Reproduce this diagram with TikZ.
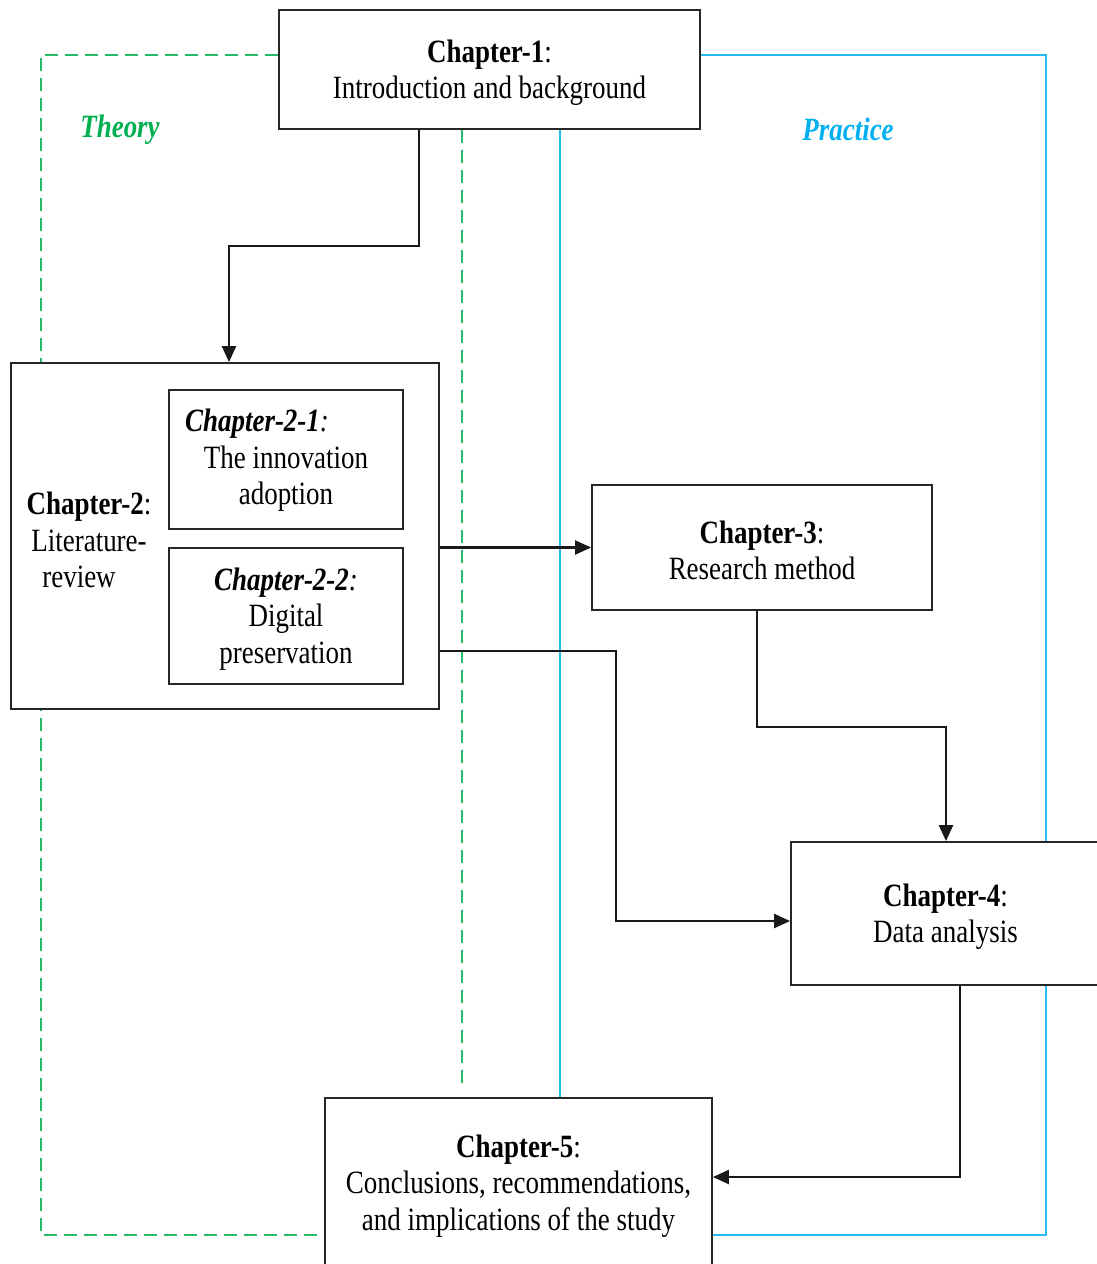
\documentclass[tikz,border=0pt]{standalone}
\usepackage{fontspec}
\setmainfont[FakeStretch=0.83]{Liberation Serif}
\usetikzlibrary{arrows.meta,calc,backgrounds}
\definecolor{thgreen}{HTML}{00B050}
\definecolor{prblue}{HTML}{00B0F0}
\begin{document}
\begin{tikzpicture}[x=1pt,y=-1pt,
  every node/.style={font=\fontsize{32.5}{36.5}\selectfont},
  box/.style={draw=black!85,line width=1.8pt,fill=white,rectangle,inner sep=0pt},
  txt/.style={align=center,inner sep=0pt},
  arr/.style={draw=black!90,line width=2.2pt,-{Triangle[length=16pt,width=14pt]}},
  theory/.style={draw=thgreen!85,line width=2pt,dash pattern=on 13pt off 7pt},
  practice/.style={draw=prblue!85,line width=1.6pt},
  lbl/.style={font=\fontsize{32.5}{36.5}\selectfont\bfseries\itshape}]
\useasboundingbox (0,0) rectangle (1096,1264);
\coordinate (gl) at (41,600);
\coordinate (br) at (1046,600);
% boxes
\node[box,minimum width=421pt,minimum height=119pt] (b1) at (489.5,69.5) {};
\node[box,minimum width=428pt,minimum height=346pt] (b2) at (225,536) {};
\node[box,minimum width=234pt,minimum height=139pt] (b21) at (286,459.5) {};
\node[box,minimum width=234pt,minimum height=136pt] (b22) at (286,616) {};
\node[box,minimum width=340pt,minimum height=125pt] (b3) at (762,547.5) {};
\node[box,minimum width=309pt,minimum height=143pt] (b4) at (945.5,913.5) {};
\node[box,minimum width=387pt,minimum height=170pt] (b5) at (518.5,1183) {};
% theory (green dashed) and practice (blue) lines, behind the boxes
\begin{scope}[on background layer]
\draw[theory] ($(b1.west)+(0,-14.5)$) -| (gl) |- ($(b5.west)+(0,52)$);
\draw[theory] ($(b1.south)+(-27.5,0)$) -- ($(b5.north)+(-56.5,-8)$);
\draw[practice] ($(b1.east)+(0,-14.5)$) -| (br) |- ($(b5.east)+(0,52)$);
\draw[practice] ($(b1.south)+(70.5,0)$) -- ($(b5.north)+(41.5,0)$);
\end{scope}
% texts
\node[txt] (t1) at ($(b1)+(0,3)$) {\textbf{Chapter-1}:\\Introduction and background};
\node[txt] (t21) at ($(b21)+(0,1)$) {\textbf{\textit{Chapter-2-1}}\textit{:}\hspace*{58pt}\\The innovation\\adoption};
\node[txt] (t22) at ($(b22)+(0,3)$) {\textbf{\textit{Chapter-2-2}}\textit{:}\\Digital\\preservation};
\node[txt] (t2) at (89,540) {\textbf{Chapter-2}:\\Literature-\\review\hspace*{20pt}};
\node[txt] (t3) at ($(b3)+(0,3)$) {\textbf{Chapter-3}:\\Research method};
\node[txt] (t4) at ($(b4)+(0,3)$) {\textbf{Chapter-4}:\\Data analysis};
\node[txt] (t5) at ($(b5)+(0,3)$) {\textbf{Chapter-5}:\\Conclusions, recommendations,\\and implications of the study};
% labels
\node[lbl,text=thgreen] (th) at (120,130) {Theory};
\node[lbl,text=prblue] (pr) at (848,129) {Practice};
% connectors
\draw[arr] ($(b1.south)+(-70.5,0)$) -- ++(0,116) -| ($(b2.north)+(4,0)$);
\draw[arr] (b2.east |- b3.west) -- (b3.west);
\draw[arr] ($(b2.east)+(0,115)$) -- ++(176,0) |- ($(b4.west)+(0,7.5)$);
\draw[arr] ($(b3.south)+(-5,0)$) -- ++(0,116) -| ($(b4.north)+(0.5,0)$);
\draw[arr] ($(b4.south)+(14.5,0)$) |- ($(b5.east)+(0,-6)$);
\end{tikzpicture}
\end{document}
